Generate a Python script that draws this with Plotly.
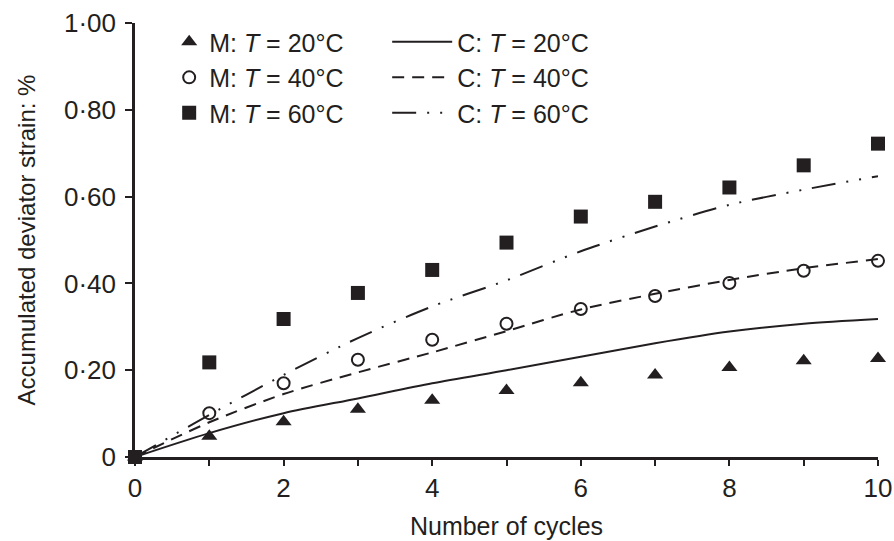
import plotly.graph_objects as go

# ---- data ----
cycles = [0, 1, 2, 3, 4, 5, 6, 7, 8, 9, 10]

m_20 = [0, 0.048, 0.081, 0.110, 0.131, 0.153, 0.171, 0.189, 0.206, 0.222, 0.227]
m_40 = [0, 0.101, 0.170, 0.224, 0.270, 0.307, 0.341, 0.371, 0.401, 0.429, 0.452]
m_60 = [0, 0.218, 0.318, 0.378, 0.431, 0.494, 0.554, 0.588, 0.621, 0.672, 0.722]

c_20 = [0, 0.055, 0.101, 0.135, 0.170, 0.200, 0.231, 0.262, 0.289, 0.307, 0.318]
c_40 = [0, 0.080, 0.145, 0.195, 0.241, 0.290, 0.340, 0.376, 0.408, 0.435, 0.456]
c_60 = [0, 0.097, 0.189, 0.274, 0.347, 0.407, 0.474, 0.531, 0.581, 0.616, 0.647]

y_tickvals = [0, 0.2, 0.4, 0.6, 0.8, 1.0]
y_ticktext = ["0", "0·20", "0·40", "0·60", "0·80", "1·00"]
x_tickvals = [0, 1, 2, 3, 4, 5, 6, 7, 8, 9, 10]
x_ticktext = ["0", "", "2", "", "4", "", "6", "", "8", "", "10"]

INK = "#231f20"
FONT = "Liberation Sans, Arial, sans-serif"

fig = go.Figure()

# model (C) lines
line_specs = [
    (c_20, "C: <i>T</i> = 20°C", "solid"),
    (c_40, "C: <i>T</i> = 40°C", "12px,8px"),
    (c_60, "C: <i>T</i> = 60°C", "24px,11px,2px,11px,2px,11px"),
]
for ys, name, dash in line_specs:
    fig.add_trace(go.Scatter(
        x=cycles, y=ys, mode="lines", name=name,
        line=dict(color=INK, width=2, dash=dash, shape="spline", smoothing=0.8),
        legend="legend2", cliponaxis=False,
    ))

# measured (M) markers
marker_specs = [
    (m_20, "M: <i>T</i> = 20°C", dict(symbol="triangle-up", size=14, color=INK, line=dict(width=0))),
    (m_40, "M: <i>T</i> = 40°C", dict(symbol="circle-open", size=12, color=INK, line=dict(width=2, color=INK))),
    (m_60, "M: <i>T</i> = 60°C", dict(symbol="square", size=14, color=INK, line=dict(width=0))),
]
for ys, name, mk in marker_specs:
    fig.add_trace(go.Scatter(
        x=cycles, y=ys, mode="markers", name=name, marker=mk,
        legend="legend", cliponaxis=False,
    ))

fig.update_layout(
    width=894, height=541,
    margin=dict(l=135, r=16, t=23, b=84),
    paper_bgcolor="white", plot_bgcolor="white",
    font=dict(family=FONT, size=24, color=INK),
    legend=dict(
        x=0.046, y=1.009, xanchor="left", yanchor="top",
        font=dict(size=25, color=INK), bgcolor="rgba(0,0,0,0)",
        itemwidth=30, tracegroupgap=0, traceorder="normal",
    ),
    legend2=dict(
        x=0.3394, y=1.009, xanchor="left", yanchor="top",
        font=dict(size=25, color=INK), bgcolor="rgba(0,0,0,0)",
        itemwidth=60, tracegroupgap=0, traceorder="normal",
    ),
    xaxis=dict(
        range=[0, 10], tickvals=x_tickvals, ticktext=x_ticktext,
        showline=True, linecolor=INK, linewidth=2.5, mirror=False,
        ticks="outside", ticklen=6, tickwidth=2, tickcolor=INK,
        showgrid=False, zeroline=False, automargin=False,
        tickfont=dict(size=26, color=INK),
        title=dict(text="Number of cycles", font=dict(size=25, color=INK), standoff=16),
    ),
    yaxis=dict(
        range=[0, 1.0], tickvals=y_tickvals, ticktext=y_ticktext,
        showline=True, linecolor=INK, linewidth=2.5, mirror=False,
        ticks="outside", ticklen=7, tickwidth=2, tickcolor=INK,
        showgrid=False, zeroline=False, ticklabelstandoff=4, automargin=False,
        tickfont=dict(size=26, color=INK),
        title=dict(text="Accumulated deviator strain: %", font=dict(size=24, color=INK), standoff=22),
    ),
)

fig.write_html("out.html")
